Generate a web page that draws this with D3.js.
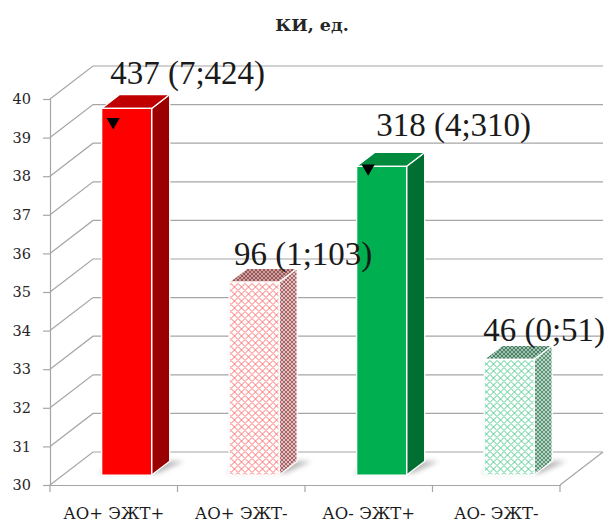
<!DOCTYPE html>
<html>
<head>
<meta charset="utf-8">
<script src="https://cdn.jsdelivr.net/npm/d3@7"></script>
<style>
  body { margin: 0; background: #fff; }
  svg { display: block; }
</style>
</head>
<body>
<div id="chart"></div>
<script>
// data
var categories = ["АО+ ЭЖТ+", "АО+ ЭЖТ-", "АО- ЭЖТ+", "АО- ЭЖТ-"];
var values = [39.5, 35, 38, 33];
var valueLabels = ["437 (7;424)", "96 (1;103)", "318 (4;310)", "46 (0;51)"];
var markerValues = [39.15, null, 37.95, null];
var yTicks = [30, 31, 32, 33, 34, 35, 36, 37, 38, 39, 40];
var title = "КИ, ед.";

var svgWidth = 613;
var svgHeight = 522;

var serifFont = '"Liberation Serif", serif';
var wideFont = '"DejaVu Serif", serif';

// 3d box of the plot
var depthX = 43, depthY = -33;
var barFront = 0.3, barBack = 0.72;

// label nudges (px) relative to bar front centre / top
var labelNudge = [[61, -24], [49, -17], [72, -30], [35, -18]];

var svg = d3.select("#chart")
  .append("svg")
  .attr("width", svgWidth)
  .attr("height", svgHeight);

var x = d3.scaleBand()
  .domain(categories)
  .range([50, 560]);

var y = d3.scaleLinear()
  .domain([30, 40])
  .range([485, 99]);

// project a front-plane point into depth f (0 = front, 1 = back wall)
function P(px, v, f) {
  return [px + f * depthX, y(v) + f * depthY];
}
function poly(pts) {
  return pts.map(p => p[0].toFixed(2) + "," + p[1].toFixed(2)).join(" ");
}

var defs = svg.append("defs");

function lattice(id, bg, stroke, size, sw) {
  var p = defs.append("pattern")
    .attr("id", id)
    .attr("patternUnits", "userSpaceOnUse")
    .attr("width", size)
    .attr("height", size);
  p.append("rect").attr("width", size).attr("height", size).attr("fill", bg);
  var h = size / 2;
  p.append("path")
    .attr("d", `M0,${h} L${h},0 L${size},${h} L${h},${size} Z`)
    .attr("fill", "none")
    .attr("stroke", stroke)
    .attr("stroke-width", sw);
}
lattice("redFront", "#ffffff", "#ff6f6f", 7, 1);
lattice("redSide", "#dcc4c4", "#a85858", 4, 0.9);
lattice("redTop", "#c9a3a3", "#9a4c4c", 4, 0.9);
lattice("grnFront", "#ffffff", "#4fcf8f", 7, 1);
lattice("grnSide", "#b9d3c5", "#4f8b6c", 4, 0.9);
lattice("grnTop", "#a3c2b1", "#3f7a5c", 4, 0.9);

defs.append("filter").attr("id", "blur")
  .attr("x", "-50%").attr("y", "-50%").attr("width", "200%").attr("height", "200%")
  .append("feGaussianBlur").attr("stdDeviation", 2.5);

var faceFill = [
  { front: "#ff0000", side: "#9a0000", top: "#c00000" },
  { front: "url(#redFront)", side: "url(#redSide)", top: "url(#redTop)" },
  { front: "#00b050", side: "#006f31", top: "#008a3e" },
  { front: "url(#grnFront)", side: "url(#grnSide)", top: "url(#grnTop)" }
];

var gridColor = "#a6a6a6";
var grid = svg.append("g");

// back wall + left wall gridlines
yTicks.forEach(function(t) {
  var a = P(50, t, 0), b = P(50, t, 1), c = P(560, t, 1);
  grid.append("polyline")
    .attr("points", poly([a, b, c]))
    .attr("fill", "none")
    .attr("stroke", gridColor)
    .attr("stroke-width", 1.2);
});

// floor right edge
grid.append("line")
  .attr("x1", P(560, 30, 0)[0]).attr("y1", P(560, 30, 0)[1])
  .attr("x2", P(560, 30, 1)[0]).attr("y2", P(560, 30, 1)[1])
  .attr("stroke", gridColor).attr("stroke-width", 1.2);

// axes
var yAxis = d3.axisLeft(y).tickValues(yTicks).tickSize(7).tickPadding(12);
var yAxisG = svg.append("g")
  .attr("transform", "translate(50,0)")
  .call(yAxis);
yAxisG.select(".domain").attr("stroke", gridColor).attr("stroke-width", 1.2);
yAxisG.selectAll(".tick line").attr("stroke", gridColor).attr("stroke-width", 1.2);
yAxisG.selectAll(".tick text")
  .attr("fill", "#262626")
  .style("font-family", wideFont)
  .style("font-size", "14.5px");

var xAxis = d3.axisBottom(x).tickSize(0).tickFormat("");
var xAxisG = svg.append("g")
  .attr("transform", "translate(0,485)")
  .call(xAxis);
xAxisG.select(".domain").attr("stroke", gridColor).attr("stroke-width", 1.2);

// category boundary ticks
var bounds = categories.map(c => x(c)).concat([x.range()[1]]);
svg.append("g").selectAll("line")
  .data(bounds)
  .enter()
  .append("line")
  .attr("x1", d => d).attr("x2", d => d)
  .attr("y1", 485).attr("y2", 492)
  .attr("stroke", gridColor).attr("stroke-width", 1.2);

svg.append("g").selectAll("text")
  .data(categories)
  .enter()
  .append("text")
  .attr("x", d => x(d) + x.bandwidth() / 2)
  .attr("y", 519)
  .attr("text-anchor", "middle")
  .attr("fill", "#1a1a1a")
  .style("font-family", wideFont)
  .style("font-size", "16.5px")
  .text(d => d);

// bars
var barW = x.bandwidth() * 0.392;
var barsG = svg.append("g");

categories.forEach(function(c, i) {
  var cx = x(c) + x.bandwidth() / 2;
  var x0 = cx - barW / 2, x1 = cx + barW / 2;
  var v = values[i];
  var g = barsG.append("g");

  // soft shadow at the base
  g.append("polygon")
    .attr("points", poly([P(x0 - 6, 30, barFront + 0.06), P(x1 + 4, 30, barFront + 0.06),
      P(x1 + 14, 30, barBack), P(x0 + 2, 30, barBack)]))
    .attr("fill", "#7f7f7f")
    .attr("opacity", 0.55)
    .attr("filter", "url(#blur)");

  var front = [P(x0, 30, barFront), P(x1, 30, barFront), P(x1, v, barFront), P(x0, v, barFront)];
  var side = [P(x1, 30, barFront), P(x1, 30, barBack), P(x1, v, barBack), P(x1, v, barFront)];
  var top = [P(x0, v, barFront), P(x1, v, barFront), P(x1, v, barBack), P(x0, v, barBack)];

  [[side, faceFill[i].side], [top, faceFill[i].top], [front, faceFill[i].front]].forEach(function(f) {
    g.append("polygon")
      .attr("points", poly(f[0]))
      .attr("fill", f[1])
      .attr("stroke", "#ffffff")
      .attr("stroke-width", 1.3)
      .attr("stroke-linejoin", "round");
  });

  // marker triangle
  if (markerValues[i] != null) {
    var m = P(x0 + 11.5, markerValues[i], barFront);
    g.append("path")
      .attr("d", d3.symbol().type(d3.symbolTriangle).size(75)())
      .attr("transform", `translate(${m[0]},${m[1]}) rotate(180)`)
      .attr("fill", "#000");
  }
});

// value labels
svg.append("g").selectAll("text")
  .data(valueLabels)
  .enter()
  .append("text")
  .attr("x", (d, i) => P(x(categories[i]) + x.bandwidth() / 2, values[i], barFront)[0] + labelNudge[i][0])
  .attr("y", (d, i) => P(0, values[i], barFront)[1] + labelNudge[i][1])
  .attr("text-anchor", "middle")
  .attr("fill", "#1a1a1a")
  .style("font-family", serifFont)
  .style("font-size", "33px")
  .text(d => d);

// title
svg.append("text")
  .attr("x", 312)
  .attr("y", 31)
  .attr("text-anchor", "middle")
  .attr("fill", "#262626")
  .style("font-family", wideFont)
  .style("font-weight", "bold")
  .style("font-size", "17.5px")
  .text(title);
</script>
</body>
</html>
